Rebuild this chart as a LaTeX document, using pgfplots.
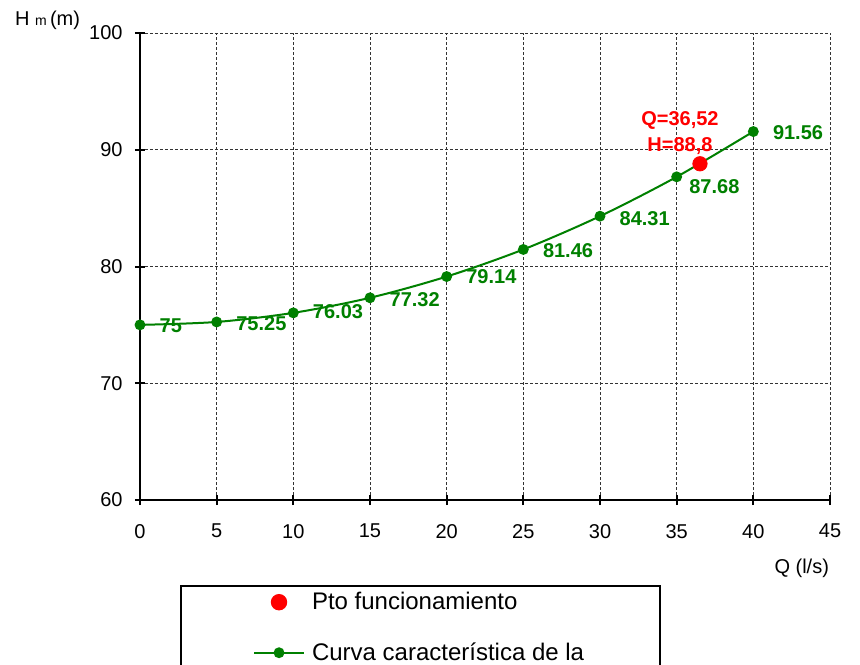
\documentclass[border=0pt]{standalone}
\usepackage{pgfplots}
\usepackage{pgfplotstable}
\pgfplotsset{compat=1.18}
\usepackage{fontspec}
\setmainfont{Liberation Sans}
\definecolor{exgreen}{RGB}{0,128,0}
\pgfplotstableread{
x y lbl dx dy
0 75 75 6 -0.5
5 75.25 75.25 6 -1
10 76.03 76.03 6 0.5
15 77.32 77.32 6 -1
20 79.14 79.14 6 0
25 81.46 81.46 6 -0.5
30 84.31 84.31 6 -1
35 87.68 87.68 2.5 -5
40 91.56 91.56 6 -0.5
}\curve
\begin{document}
\begin{tikzpicture}
\useasboundingbox (-70pt,-82pt) rectangle (360pt,250pt);
\clip (-70pt,-82pt) rectangle (360pt,250pt);
\begin{axis}[
  at={(0pt,0pt)}, anchor=south west,
  scale only axis, width=345pt, height=233.5pt,
  xmin=0, xmax=45, ymin=60, ymax=100,
  xtick={0,5,...,45}, ytick={60,70,...,100},
  axis lines=left, axis line style={-, line width=1pt},
  tick align=center, major tick length=5pt, tick style={line width=1pt, black},
  grid=major, major grid style={dash pattern=on 1.5pt off 1pt, line width=0.4pt, black!80},
  tick label style={font=\fontsize{10}{12}\selectfont},
  /pgf/number format/assume math mode=true,
  xticklabel style={yshift=-6pt},
  yticklabel style={xshift=-2.7pt},
  ylabel={H {\fontsize{7}{8}\selectfont m}\,(m)},
  ylabel style={rotate=-90, at={(axis description cs:-0.134,1.028)}, anchor=center, font=\fontsize{10}{12}\selectfont},
  xlabel={Q (l/s)},
  xlabel style={at={(axis description cs:0.959,-0.146)}, anchor=center, font=\fontsize{10}{12}\selectfont},
  legend cell align=left,
  legend style={at={(axis description cs:0.058,-0.182)}, anchor=north west,
    draw=black, line width=1pt, fill=white,
    font=\fontsize{12}{14}\selectfont,
    inner xsep=36pt, inner ysep=1pt, row sep=11pt,
    /tikz/every odd column/.append style={column sep=1.5pt}},
]
\addlegendimage{only marks, mark=*, mark size=3.6pt, red,
  legend image code/.code={\path (0pt,0pt) (25pt,0pt); \draw plot coordinates {(12.5pt,0pt)};}}
\addlegendentry{Pto funcionamiento}
\addlegendimage{exgreen, line width=1pt, mark=*, mark size=2.2pt,
  legend image code/.code={\draw[mark repeat=2,mark phase=2] plot coordinates {(0pt,0pt)(12.5pt,0pt)(25pt,0pt)};}}
\addlegendentry{Curva característica de la}

\addplot[exgreen, line width=1pt, smooth, mark=*, mark size=2.2pt,
  mark options={fill=exgreen, draw=exgreen},
  point meta=explicit symbolic,
  visualization depends on={\thisrow{dx} \as \dx},
  visualization depends on={\thisrow{dy} \as \dy},
  nodes near coords,
  nodes near coords style={anchor=west, xshift=\dx pt, yshift=\dy pt,
    font=\bfseries\fontsize{10}{12}\selectfont, text=exgreen}]
  table[x=x, y=y, meta=lbl] {\curve};
\addplot[only marks, mark=*, mark size=3.6pt, red] coordinates {(36.52,88.8)};
\node[text=red, font=\bfseries\fontsize{10}{13}\selectfont, align=center, anchor=south,
  xshift=-10pt, yshift=1pt] at (axis cs:36.52,88.8) {Q=36,52\\H=88,8};
\end{axis}
\end{tikzpicture}
\end{document}
